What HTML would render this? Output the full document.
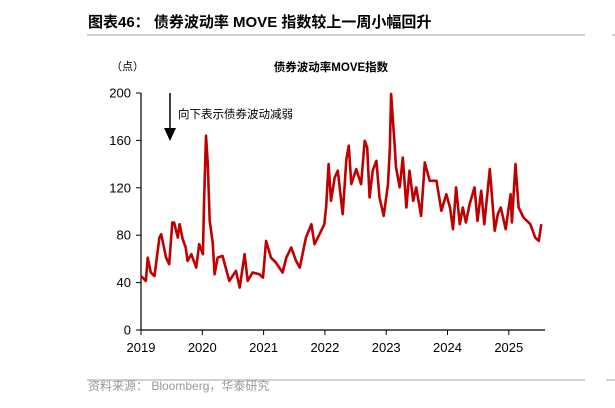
<!DOCTYPE html>
<html><head><meta charset="utf-8"><style>
body{margin:0;background:#fff;width:615px;height:403px;overflow:hidden;font-family:"Liberation Sans","Noto Sans CJK SC",sans-serif}
</style></head><body>
<svg width="615" height="403">
<text x="88" y="27" font-size="15" font-weight="bold" fill="#000">图表46：  债券波动率 MOVE 指数较上一周小幅回升</text>
<line x1="87" y1="35" x2="585" y2="35" stroke="#b8c4d4" stroke-width="1.5"/>
<line x1="612" y1="35" x2="615" y2="35" stroke="#b8c4d4" stroke-width="1.5"/>
<text x="111" y="70" font-size="11" fill="#000">（点）</text>
<text x="331" y="71" font-size="11.5" font-weight="bold" text-anchor="middle" fill="#000">债券波动率MOVE指数</text>
<g id="axes"></g>
<path id="line" fill="none" stroke="#c00000" stroke-width="2.6" stroke-linejoin="round"/>
<line x1="170" y1="93" x2="170" y2="130" stroke="#000" stroke-width="1.5"/>
<polygon points="164,128 176,128 170,141" fill="#000"/>
<text x="178" y="118" font-size="11.5" fill="#000">向下表示债券波动减弱</text>
<line x1="87" y1="380" x2="585" y2="380" stroke="#b8c4d4" stroke-width="1.5"/>
<line x1="606" y1="380" x2="615" y2="380" stroke="#b8c4d4" stroke-width="1.5"/>
<text x="88" y="390" font-size="12" fill="#999">资料来源：  Bloomberg，华泰研究</text>
</svg>
<script>
const dates=[2019.00,2019.08,2019.11,2019.16,2019.22,2019.30,2019.33,2019.41,2019.46,2019.51,2019.54,2019.60,2019.63,2019.68,2019.73,2019.76,2019.82,2019.90,2019.95,2020.01,2020.03,2020.06,2020.09,2020.12,2020.17,2020.20,2020.25,2020.33,2020.44,2020.55,2020.61,2020.69,2020.74,2020.82,2020.93,2020.99,2021.04,2021.12,2021.20,2021.31,2021.37,2021.45,2021.53,2021.59,2021.69,2021.78,2021.83,2021.94,2021.99,2022.02,2022.06,2022.10,2022.16,2022.21,2022.29,2022.35,2022.39,2022.43,2022.51,2022.59,2022.65,2022.69,2022.73,2022.78,2022.84,2022.89,2022.96,2023.03,2023.06,2023.08,2023.14,2023.16,2023.22,2023.27,2023.33,2023.38,2023.44,2023.49,2023.57,2023.63,2023.71,2023.82,2023.90,2023.98,2024.04,2024.09,2024.14,2024.20,2024.25,2024.30,2024.36,2024.44,2024.49,2024.55,2024.60,2024.69,2024.77,2024.82,2024.87,2024.95,2025.03,2025.05,2025.11,2025.16,2025.24,2025.35,2025.43,2025.49,2025.53];
const values=[45.6,41.4,61,48.5,45.6,78,80.8,61,55.5,90.7,90.7,78,89.3,76.6,69.6,58.3,64,52.7,72.4,64,109,164,140,92,73.8,47,61,62.5,41.4,49.9,35.8,64,41.4,48.5,47,44.2,75.2,61,56.9,48.5,61,69.6,58.3,52.7,78,89.3,72.4,83.7,89.3,103.4,140,109,128.7,134.4,97.7,144.2,155.5,123.1,135.8,123.1,159.7,154.1,111.8,134.4,142.8,111.8,96.3,123.1,154.1,199.2,154.1,137.2,120.3,145.6,103.4,134.4,109,120.3,96.3,141.4,125.9,125.9,100.6,114.6,103.4,85.1,120.3,89.3,103.4,90.7,106.2,120.3,92.1,117.5,89.3,135.8,83.7,97.7,103.4,85.1,114.6,90.7,140,103.4,94.9,89.3,78,75.2,89.3];
const yTicks=[0,40,80,120,160,200];
const xTicks=[2019,2020,2021,2022,2023,2024,2025];
const X=t=>141+(t-2019)*61.3, Y=v=>330-v*1.185;
const NS='http://www.w3.org/2000/svg', g=document.getElementById('axes');
function mk(tag,a){const e=document.createElementNS(NS,tag);for(const k in a)e.setAttribute(k,a[k]);g.appendChild(e);return e;}
let e=mk('line',{x1:141,y1:Y(200),x2:141,y2:330,stroke:'#000','stroke-width':1.2});


e=mk('line',{x1:141,y1:330,x2:545,y2:330,stroke:'#000','stroke-width':1.2});


yTicks.forEach(v=>{
 let t=mk('line',{x1:136,y1:Y(v),x2:141,y2:Y(v),stroke:'#000'});
 
 
 let l=mk('text',{x:131,y:Y(v)+4.5,'font-size':13,'text-anchor':'end',fill:'#000'});l.textContent=v;
 
 
});
xTicks.forEach(v=>{
 let t=mk('line',{x1:X(v),y1:330,x2:X(v),y2:335,stroke:'#000'});
 
 
 let l=mk('text',{x:X(v),y:352,'font-size':13,'text-anchor':'middle',fill:'#000'});l.textContent=v;
 
 
});
document.getElementById('line').setAttribute('d',dates.map((d,i)=>(i?'L':'M')+X(d).toFixed(1)+','+Y(values[i]).toFixed(1)).join(''));
</script>
</body></html>
